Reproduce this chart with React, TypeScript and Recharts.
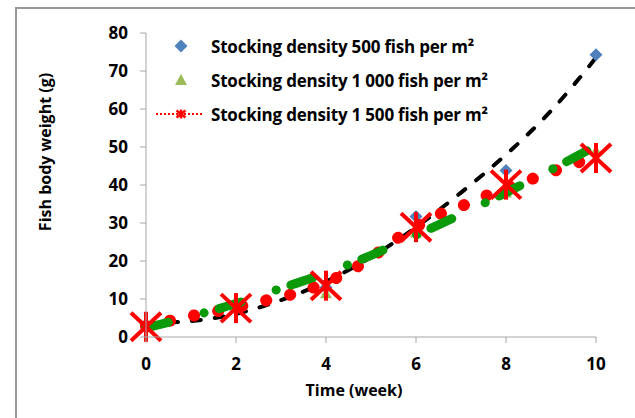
import { ComposedChart, Line, Scatter, XAxis, YAxis, Legend } from 'recharts';

// measured points (week -> body weight, g)
const weeks = [0, 2, 4, 6, 8, 10];
const density500 = [3.3, 7.3, 13.0, 31.7, 43.8, 74.3];
const density1000 = [2.6, 8.2, 11.5, 27.5, 38.0, 49.0];
const density1500 = [2.7, 7.6, 13.5, 28.9, 40.1, 47.1];

// trend curves
const trendWeeks = [0, 1, 2, 3, 4, 5, 6, 7, 8, 9, 10];
const trend500 = [3.6, 4.2, 6.1, 9.7, 14.6, 21.0, 28.9, 38.0, 48.0, 59.5, 73.5];
const trend1000 = [2.4, 5.4, 8.8, 12.8, 16.8, 21.5, 26.8, 32.3, 38.0, 44.0, 50.3];
const trend1500Weeks = [0, 0.5, 1, 1.5, 2, 2.5, 3, 3.5, 4, 4.5, 5, 5.5, 6, 6.5, 7, 7.5, 8, 8.5, 9, 9.5, 10];
const trend1500 = [2.8, 4.2, 5.5, 6.6, 7.8, 9.2, 10.5, 12.1, 14.3, 17.2, 20.8, 25.3, 29.0, 32.2, 34.4, 36.9, 39.3, 41.3, 43.4, 45.5, 47.5];

const xTicks = [0, 2, 4, 6, 8, 10];
const yTicks = [0, 10, 20, 30, 40, 50, 60, 70, 80];

const legendLabels = [
  'Stocking density 500 fish per m²',
  'Stocking density 1 000 fish per m²',
  'Stocking density 1 500 fish per m²',
];

const FONT = '"Open Sans", Lato, sans-serif';
const AXIS = '#a6a6a6';
const BLUE = '#4f81bd';
const LIGHT_GREEN = '#9bbb59';
const GREEN = '#0a9a0a';
const RED = '#ff0000';

const toPoints = (xs: number[], ys: number[]) => xs.map((x, i) => ({ x, y: ys[i] }));

const Diamond = ({ cx, cy }: any) => (
  <path d={`M${cx},${cy - 6.5}L${cx + 6.5},${cy}L${cx},${cy + 6.5}L${cx - 6.5},${cy}Z`} fill={BLUE} />
);

const Triangle = ({ cx, cy }: any) => (
  <path d={`M${cx},${cy - 6}L${cx + 6},${cy + 5}L${cx - 6},${cy + 5}Z`} fill={LIGHT_GREEN} />
);

const Asterisk = ({ cx, cy, arm = 15, sw = 4 }: any) => (
  <g stroke={RED} strokeWidth={sw}>
    <line x1={cx} y1={cy - arm} x2={cx} y2={cy + arm} />
    <line x1={cx - arm} y1={cy - arm + 1} x2={cx + arm} y2={cy + arm - 1} />
    <line x1={cx + arm} y1={cy - arm + 1} x2={cx - arm} y2={cy + arm - 1} />
  </g>
);

const legendIcon = (i: number) => {
  if (i === 0) return <Diamond cx={25} cy={10} />;
  if (i === 1) return <Triangle cx={25} cy={10} />;
  return (
    <g>
      <line x1={0} y1={10} x2={46} y2={10} stroke={RED} strokeWidth={2} strokeDasharray="2 2" />
      <Asterisk cx={25} cy={10} arm={4.5} sw={2.5} />
    </g>
  );
};

const renderLegend = () => (
  <div style={{ fontFamily: FONT, fontWeight: 700, fontSize: 17, color: '#000', letterSpacing: -0.2 }}>
    {legendLabels.map((label, i) => (
      <div key={label} style={{ display: 'flex', alignItems: 'center', height: 34 }}>
        <svg width={55} height={20} style={{ flex: 'none' }}>
          {legendIcon(i)}
        </svg>
        <span style={{ whiteSpace: 'nowrap' }}>{label}</span>
      </div>
    ))}
  </div>
);

export default function App() {
  const tickStyle = { fill: '#000', fontSize: 17, fontWeight: 700, fontFamily: FONT };
  return (
    <div style={{ position: 'absolute', left: 0, top: 0, width: 635, height: 418, background: '#fff' }}>
      <div
        style={{
          position: 'absolute',
          left: 15,
          top: 7,
          right: -5,
          bottom: -5,
          borderLeft: '2px solid #999',
          borderTop: '2px solid #999',
        }}
      />
      <ComposedChart width={635} height={418} margin={{ top: 33, right: 39, bottom: 21, left: 0 }}>
        <XAxis
          dataKey="x"
          type="number"
          domain={[0, 10]}
          ticks={xTicks}
          stroke={AXIS}
          tickSize={6}
          tickMargin={15}
          tick={tickStyle}
          height={60}
          label={{
            content: () => (
              <text x={354} y={396} textAnchor="middle" fontFamily={FONT} fontWeight={700} fontSize={16} fill="#000">
                Time (week)
              </text>
            ),
          }}
        />
        <YAxis
          dataKey="y"
          type="number"
          domain={[0, 80]}
          ticks={yTicks}
          stroke={AXIS}
          tickSize={6}
          tickMargin={12}
          tick={tickStyle}
          width={146}
          label={{
            content: () => (
              <text
                x={45}
                y={152}
                transform="rotate(-90 45 152)"
                textAnchor="middle"
                dominantBaseline="central"
                fontFamily={FONT}
                fontWeight={700}
                fontSize={16}
                fill="#000"
              >
                Fish body weight (g)
              </text>
            ),
          }}
        />
        <Legend
          layout="vertical"
          align="center"
          verticalAlign="middle"
          content={renderLegend}
          wrapperStyle={{ left: 156, top: 29, width: 440 }}
        />
        <Line
          data={toPoints(trendWeeks, trend500)}
          dataKey="y"
          type="monotone"
          stroke="#000"
          strokeWidth={4}
          strokeDasharray="9 14"
          strokeLinecap="round"
          dot={false}
          activeDot={false}
          legendType="none"
          isAnimationActive={false}
          zIndex={400}
        />
        <Scatter
          data={toPoints(weeks, density500)}
          dataKey="y"
          shape={<Diamond />}
          isAnimationActive={false}
          zIndex={410}
        />
        <Scatter
          data={toPoints(weeks, density1000)}
          dataKey="y"
          shape={<Triangle />}
          isAnimationActive={false}
          zIndex={420}
        />
        <Line
          data={toPoints(trend1500Weeks, trend1500)}
          dataKey="y"
          type="monotone"
          stroke={RED}
          strokeWidth={12}
          strokeDasharray="0.1 24.5"
          strokeLinecap="round"
          dot={false}
          activeDot={false}
          legendType="none"
          isAnimationActive={false}
          zIndex={430}
        />
        <Line
          data={toPoints(trendWeeks, trend1000)}
          dataKey="y"
          type="monotone"
          stroke={GREEN}
          strokeWidth={9}
          strokeDasharray="23 37 0.1 15.5"
          strokeLinecap="round"
          dot={false}
          activeDot={false}
          legendType="none"
          isAnimationActive={false}
          zIndex={440}
        />
        <Scatter
          data={toPoints(weeks, density1500)}
          dataKey="y"
          shape={<Asterisk />}
          isAnimationActive={false}
          zIndex={450}
        />
      </ComposedChart>
    </div>
  );
}
